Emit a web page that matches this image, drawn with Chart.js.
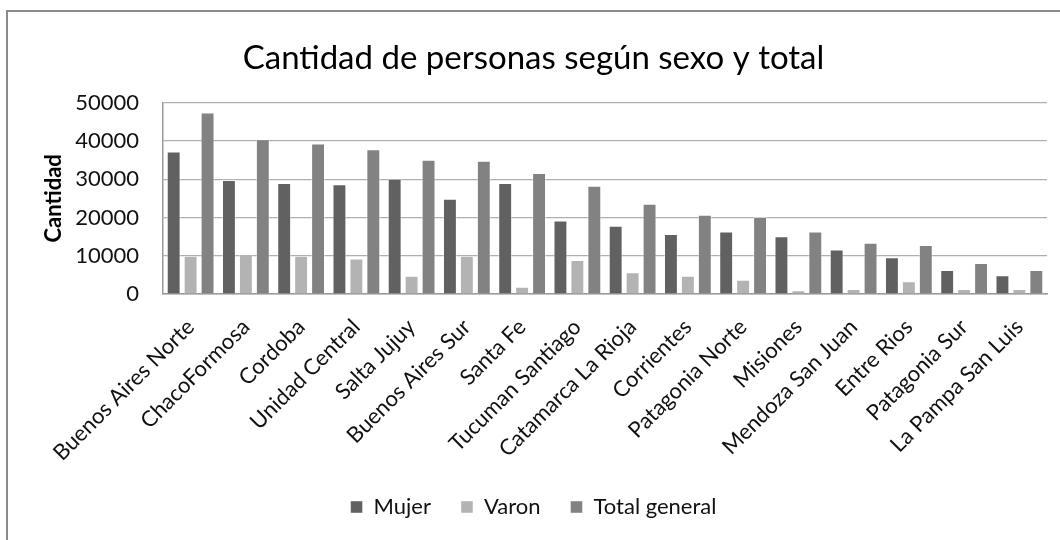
<!DOCTYPE html>
<html>
<head>
<meta charset="utf-8">
<script src="https://cdn.jsdelivr.net/npm/chart.js@4"></script>
<style>
  body { margin: 0; background: #fff; }
  #marco { position: absolute; left: 6px; top: 10px; width: 1100px; height: 600px;
           border-top: 2px solid #8a8a8a; border-left: 2px solid #8a8a8a; }
  #wrap { position: absolute; left: 0; top: 0; width: 1060px; height: 540px; }
</style>
</head>
<body>
<div id="marco"></div>
<div id="wrap"><canvas id="grafico" width="1060" height="540" style="width:1060px;height:540px"></canvas></div>
<script>
// datos
const regiones = ['Buenos Aires Norte', 'ChacoFormosa', 'Cordoba', 'Unidad Central', 'Salta Jujuy',
  'Buenos Aires Sur', 'Santa Fe', 'Tucuman Santiago', 'Catamarca La Rioja', 'Corrientes',
  'Patagonia Norte', 'Misiones', 'Mendoza San Juan', 'Entre Rios', 'Patagonia Sur', 'La Pampa San Luis'];
const mujer = [37200, 29800, 29000, 28700, 30100, 24900, 29000, 19200, 17800, 15700, 16300, 15100, 11600, 9600, 6300, 4900];
const varon = [10000, 10400, 10000, 9300, 4800, 10000, 1900, 8900, 5700, 4800, 3700, 1000, 1300, 3300, 1300, 1300];
const totalGeneral = [47400, 40400, 39300, 37800, 35100, 34800, 31600, 28300, 23600, 20700, 20100, 16300, 13400, 12800, 8100, 6300];

const fuente = 'Lato, "Open Sans", sans-serif';

const config = {
  type: 'bar',
  data: {
    labels: regiones,
    datasets: [
      { label: 'Mujer', data: mujer, backgroundColor: '#616161' },
      { label: 'Varon', data: varon, backgroundColor: '#b3b3b3' },
      { label: 'Total general', data: totalGeneral, backgroundColor: '#828282' }
    ]
  },
  options: {
    responsive: false,
    animation: false,
    layout: { padding: { left: 20, right: 13, top: 12, bottom: 12 } },
    datasets: {
      bar: {
        barPercentage: 0.82,
        categoryPercentage: 0.92,
        borderWidth: 1,
        borderColor: 'rgba(255,255,255,0.45)'
      }
    },
    plugins: {
      title: {
        display: true,
        text: 'Cantidad de personas según sexo y total',
        color: '#000',
        font: { family: fuente, size: 33, weight: 'normal' },
        padding: { top: 27, bottom: 24 }
      },
      legend: {
        position: 'bottom',
        labels: {
          color: '#111',
          font: { family: fuente, size: 22 },
          boxWidth: 12,
          boxHeight: 12,
          padding: 30
        }
      },
      tooltip: { enabled: false }
    },
    scales: {
      x: {
        grid: { display: false, drawTicks: false },
        border: { display: true, color: '#9a9a9a', width: 1.5 },
        ticks: {
          color: '#111',
          font: { family: fuente, size: 22 },
          minRotation: 45,
          maxRotation: 45,
          padding: 20,
          autoSkip: false
        },
        afterFit: function (scale) { scale.height = 172; }
      },
      y: {
        min: 0,
        max: 50000,
        grid: { color: '#b0b0b0', lineWidth: 1.2, drawTicks: false },
        border: { display: true, color: '#9a9a9a', width: 1.5 },
        ticks: {
          stepSize: 10000,
          color: '#111',
          font: { family: fuente, size: 22 },
          padding: 24,
          callback: function (valor) { return String(valor); }
        },
        title: {
          display: true,
          text: 'Cantidad',
          color: '#000',
          font: { family: fuente, size: 22, weight: 'bold' },
          padding: { top: 21, bottom: 0 }
        },
        afterFit: function (scale) { scale.width = 143; }
      }
    }
  }
};

document.addEventListener('DOMContentLoaded', function () {
  var ctx = document.getElementById('grafico').getContext('2d');
  new Chart(ctx, config);
});
</script>
</body>
</html>
